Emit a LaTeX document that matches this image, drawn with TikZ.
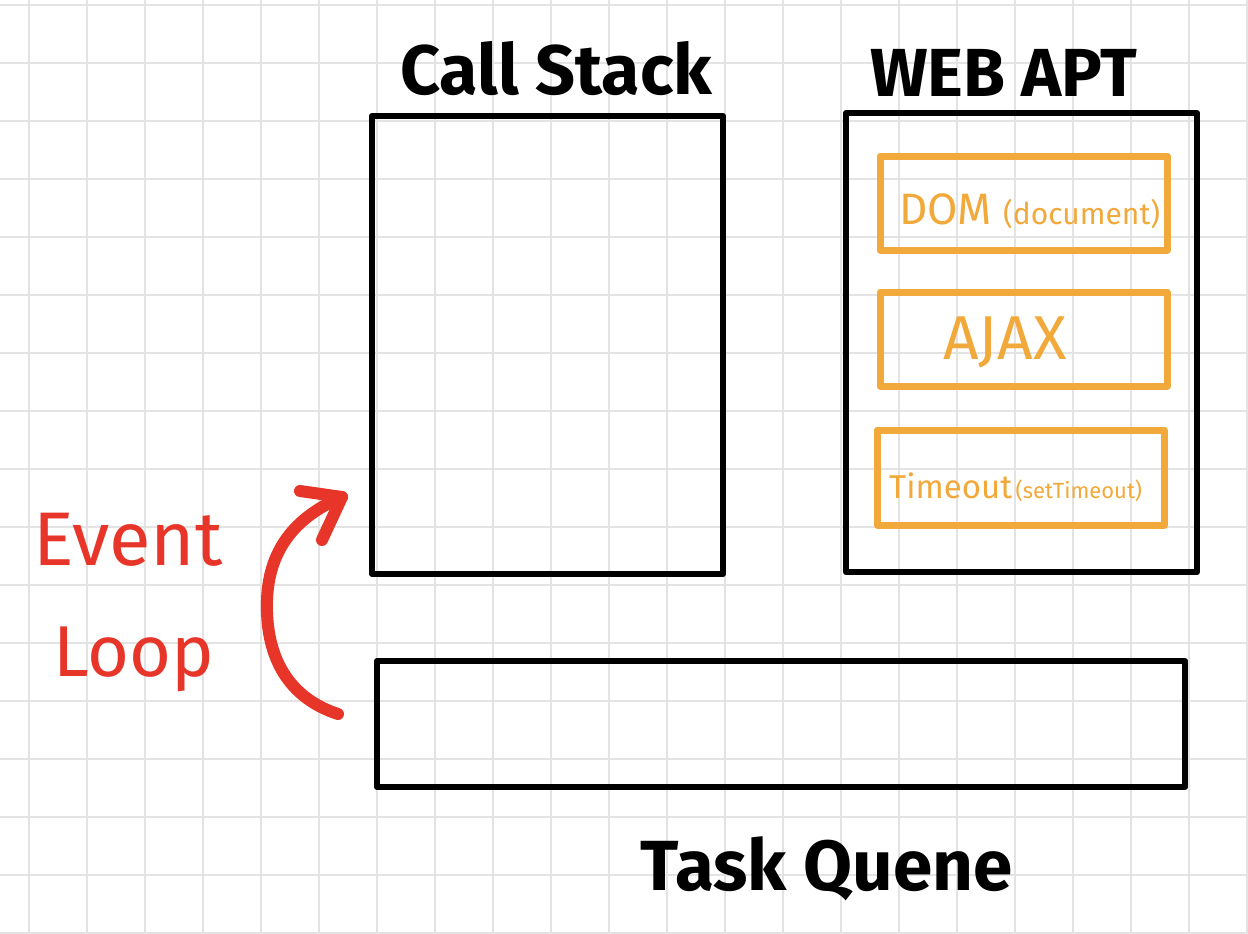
\documentclass[tikz,border=0pt]{standalone}
\usepackage{fontspec}
\setmainfont{Fira Sans}
\definecolor{gridgray}{HTML}{E3E3E3}
\definecolor{apiorange}{HTML}{F2A93B}
\definecolor{loopred}{HTML}{E8352A}
\tikzset{
  gridline/.style={draw=gridgray, line width=2pt},
  bigbox/.style={draw=black, line width=6pt, line join=round, rectangle, inner sep=0pt, fill=none},
  apibox/.style={draw=apiorange, line width=7pt, line join=round, rectangle, inner sep=0pt},
  title/.style={inner sep=0pt, anchor=base west, text=black, font=\bfseries},
  apitext/.style={inner sep=0pt, anchor=base west, text=apiorange},
  looptext/.style={inner sep=0pt, anchor=base west, text=loopred},
  looparrow/.style={draw=loopred, line width=12pt, line cap=round, line join=round}
}
\begin{document}
\begin{tikzpicture}[x=1pt, y=-1pt]
\useasboundingbox (0,0) rectangle (1248,934);
\fill[white] (0,0) rectangle (1248,934);
% grid
\foreach \k in {0,...,21} { \draw[gridline] (29+58*\k,0) -- (29+58*\k,934); }
\foreach \k in {0,...,16} { \draw[gridline] (0,5+58*\k) -- (1248,5+58*\k); }

% main boxes
\node[bigbox, minimum width=351pt, minimum height=458pt] (stack) at (547.5,345) {};
\node[bigbox, minimum width=351pt, minimum height=459pt] (webapi) at (1021.5,342.5) {};
\node[bigbox, minimum width=808pt, minimum height=126pt] (queue) at (781,724) {};

% web api boxes
\node[apibox, minimum width=287pt, minimum height=94pt] (dom) at (1023.5,203) {};
\node[apibox, minimum width=287pt, minimum height=94pt] (ajax) at (1023.5,339) {};
\node[apibox, minimum width=287pt, minimum height=95pt] (timeout) at (1020.5,477.5) {};

% titles
\node[title, font=\bfseries\fontsize{70}{70}\selectfont] (stacklbl) at (400,95) {Call Stack};
\node[title, font=\bfseries\fontsize{68}{68}\selectfont] (webapilbl) at (870,96) {WEB APT};
\node[title, font=\bfseries\fontsize{71}{71}\selectfont] (queuelbl) at (640,890) {Task Quene};

% api texts
\node[apitext, font=\fontsize{44}{44}\selectfont] (domlbl) at (899,224) {DOM};
\node[apitext, font=\fontsize{30}{30}\selectfont] (domsub) at (1003,224) {(document)};
\node[apitext, font=\fontsize{62}{62}\selectfont] (ajaxlbl) at (943,359) {AJAX};
\node[apitext, font=\fontsize{33}{33}\selectfont] (tolbl) at (889,498) {Timeout};
\node[apitext, font=\fontsize{22}{22}\selectfont, xshift=3pt] (tosub) at (tolbl.base east) {(setTimeout)};

% event loop label
\node[looptext, font=\fontsize{76}{76}\selectfont] (eventlbl) at (33,565) {Event};
\node[looptext, font=\fontsize{72}{72}\selectfont] (looplbl) at (53,676) {Loop};

% event loop arrow
\coordinate (elS) at (338,714);
\coordinate (elE) at (342,497);
\draw[looparrow] (elS) .. controls (295,700) and (265,665) .. (267,600)
  .. controls (269,545) and (300,515) .. (elE);
\draw[looparrow] (300,491) -- (elE) -- (322,540);
\end{tikzpicture}
\end{document}
